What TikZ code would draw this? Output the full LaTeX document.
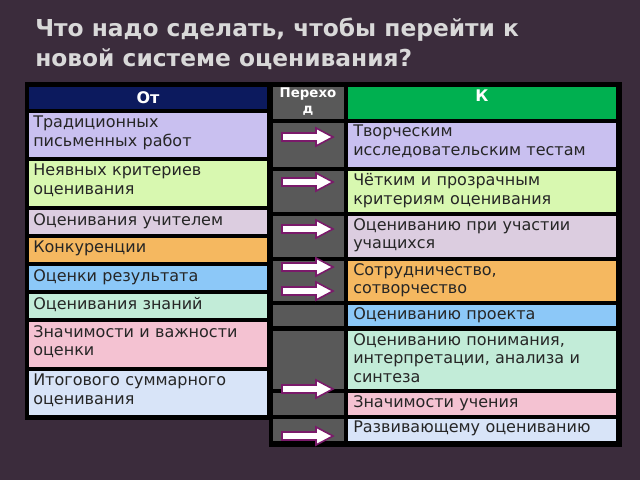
\documentclass[tikz,border=0pt]{standalone}
\usepackage{fontspec}
\setmainfont{DejaVu Sans}
\definecolor{bgpurple}{HTML}{3B2C3C}
\definecolor{navy}{HTML}{0C1A5E}
\definecolor{cgreen}{HTML}{00B050}
\definecolor{lav}{HTML}{C9C0F0}
\definecolor{lgreen}{HTML}{D8F8B0}
\definecolor{lpink}{HTML}{DCCDE0}
\definecolor{orng}{HTML}{F5B860}
\definecolor{lblue}{HTML}{8CC8F8}
\definecolor{mint}{HTML}{C2ECD8}
\definecolor{pnk}{HTML}{F4C2D2}
\definecolor{gblue}{HTML}{D8E4F8}
\definecolor{arrowrim}{HTML}{7A1A6A}
\tikzset{
  cell/.style={fill=#1, draw=black, line width=1.5pt},
  celltext/.style={anchor=north west, align=left, text width=#1, inner sep=0pt,
    font=\fontsize{12}{14}\selectfont, text=black!85},
  passarrow/.style={fill=white, draw=arrowrim, line width=1.2pt, line join=miter}
}
\begin{document}
\begin{tikzpicture}[x=0.75pt, y=-0.75pt]
  \fill[bgpurple] (0,0) rectangle (640,480);
  \node[anchor=west, text=white!85!black, align=left, inner sep=0pt,
    font=\fontsize{17.5}{22.5}\bfseries\selectfont] (title) at (35,44)
    {Что надо сделать, чтобы перейти к\\новой системе оценивания?};
  \fill[black] (25,82) rectangle (271,420);
  \fill[black] (269,82) rectangle (622,447);
  % left column
  \fill[cell=navy] (28,86) rectangle (268,110);
  \node[text=white, font=\fontsize{12}{14}\bfseries\selectfont] (from) at (148,98) {От};
  \foreach \t/\b/\c/\txt [count=\i] in {
    112/158/lav/{Традиционных\\письменных работ},
    160/207/lgreen/{Неявных критериев\\оценивания},
    209/235/lpink/{Оценивания учителем},
    237/263/orng/{Конкуренции},
    265/291/lblue/{Оценки результата},
    293/319/mint/{Оценивания знаний},
    321/368/pnk/{Значимости и важности\\оценки},
    370/416/gblue/{Итогового суммарного\\оценивания}}{
    \fill[cell=\c] (28,\t) rectangle (268,\b);
    \node[celltext=178pt] (l\i) at (33,\t+4) {\txt};
  }
  % middle and right columns
  \fill[cell=black!65] (272,86) rectangle (345,120);
  \node[text=white, align=center, font=\fontsize{10}{12}\bfseries\selectfont] (trans) at (308,102) {Перехо\\д};
  \fill[cell=cgreen] (347,86) rectangle (617,120);
  \node[text=white, font=\fontsize{12}{14}\bfseries\selectfont] (to) at (482,96) {К};
  \foreach \t/\b/\c/\txt [count=\i] in {
    122/168/lav/{Творческим\\исследовательским тестам},
    170/213/lgreen/{Чётким и прозрачным\\критериям оценивания},
    215/258/lpink/{Оцениванию при участии\\учащихся},
    260/302/orng/{Сотрудничество,\\сотворчество},
    304/327/lblue/{Оцениванию проекта},
    330/390/mint/{Оцениванию понимания,\\интерпретации, анализа и\\синтеза},
    392/416/pnk/{Значимости учения},
    418/442/gblue/{Развивающему оцениванию}}{
    \fill[cell=\c] (272,\t) rectangle (345,\b);
    \fill[cell=black!65] (272,\t) rectangle (345,\b);
    \fill[cell=\c] (347,\t) rectangle (617,\b);
    \node[celltext=200pt] (r\i) at (353,\t+3) {\txt};
  }
  \foreach \y [count=\i] in {137,182,229,267,291,389,436}{
    \coordinate (arr\i) at (308,\y);
    \draw[passarrow, shift={(arr\i)}] (-26,-4) -- (8,-4) -- (8,-9) -- (25,0)
      -- (8,9) -- (8,4) -- (-26,4) -- cycle;
  }
\end{tikzpicture}
\end{document}
